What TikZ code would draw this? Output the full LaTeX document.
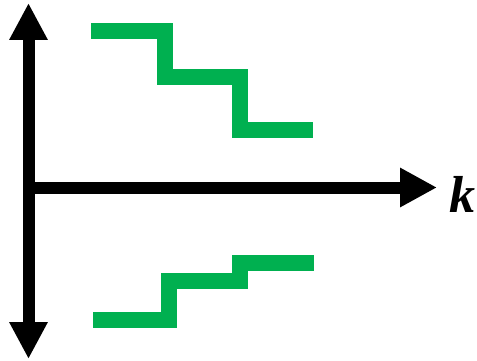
\documentclass[tikz,border=0pt]{standalone}
\usepackage{fontspec}
\setmainfont{Liberation Serif}
\usetikzlibrary{arrows.meta}
\definecolor{stepgreen}{HTML}{00B050}
\begin{document}
\begin{tikzpicture}[x=1pt,y=-1pt,
  axis/.style={line width=12pt,black,{Triangle[length=37pt,width=36pt]}-{Triangle[length=37pt,width=36pt]}},
  haxis/.style={line width=12pt,black,-{Triangle[length=37pt,width=37pt]}},
  stairs/.style={line width=16pt,stepgreen,line join=miter,line cap=butt}]
\useasboundingbox (0,0) rectangle (477,361);
% axes
\coordinate (vtop) at (28.5,3);
\coordinate (vbot) at (28.5,359);
\coordinate (horg) at (28.5,187.5);
\coordinate (hend) at (437,187.5);
\draw[axis] (vtop) -- (vbot);
\draw[haxis] (horg) -- (hend);
\node[font=\fontsize{52}{52}\selectfont\bfseries\itshape] (klabel) at (462,194) {k};
% upper staircase
\coordinate (u0) at (91,31);
\coordinate (u1) at (165,31);
\coordinate (u2) at (165,77);
\coordinate (u3) at (240,77);
\coordinate (u4) at (240,130);
\coordinate (u5) at (313,130);
\draw[stairs] (u0) -- (u1) -- (u2) -- (u3) -- (u4) -- (u5);
% lower staircase
\coordinate (l0) at (93,320);
\coordinate (l1) at (169,320);
\coordinate (l2) at (169,281);
\coordinate (l3) at (240,281);
\coordinate (l4) at (240,263);
\coordinate (l5) at (314,263);
\draw[stairs] (l0) -- (l1) -- (l2) -- (l3) -- (l4) -- (l5);
\end{tikzpicture}
\end{document}
